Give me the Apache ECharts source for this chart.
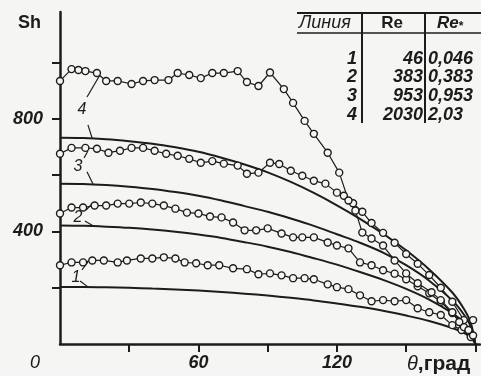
<!DOCTYPE html>
<html>
<head>
<meta charset="utf-8">
<script src="https://cdn.jsdelivr.net/npm/echarts@6/dist/echarts.min.js"></script>
<style>
html, body { margin: 0; padding: 0; background: #f5f5f3; }
#chart { width: 481px; height: 376px; }
</style>
</head>
<body>
<div id="chart"></div>
<script>
// experimental points [theta, Sh]
const exp1 = [[0,280],[5,290],[10,290],[14,297],[19,297],[25,290],[29,297],[35,304],[40,304],[45,308],[50,304],[54,290],[59,287],[64,280],[69,280],[75,269],[81,266],[86,248],[91,251],[96,244],[101,234],[106,234],[110,230],[116,212],[120,202],[125,195],[130,173],[135,152],[140,156],[145,152],[150,156],[155,127],[160,113],[165,103],[170,67],[174,50],[178,32]];
const exp2 = [[0,464],[5,485],[10,485],[15,492],[20,492],[25,499],[30,499],[35,503],[40,499],[45,492],[50,481],[55,467],[60,464],[65,453],[70,450],[75,432],[80,404],[85,404],[90,411],[96,393],[101,379],[105,379],[110,379],[116,361],[120,350],[125,340],[130,290],[135,280],[140,262],[145,250],[150,230],[155,205],[160,180],[165,150],[170,110],[175,60],[178,25]];
const exp3 = [[0,676],[5,697],[11,697],[16,694],[21,680],[26,687],[31,697],[36,697],[41,687],[46,676],[51,669],[56,658],[61,644],[66,650],[71,641],[77,634],[81,605],[86,609],[91,644],[95,640],[100,616],[105,598],[110,580],[115,570],[120,538],[123,527],[127,500],[131,470],[135,430],[140,395],[145,360],[150,320],[155,285],[160,245],[165,200],[170,150],[175,85],[179,85]];
const exp4 = [[0,935],[5,977],[8,974],[11,970],[16,963],[20,935],[25,935],[31,924],[36,935],[41,938],[47,938],[51,963],[56,956],[61,945],[66,963],[71,963],[77,970],[81,931],[86,917],[91,965],[97,906],[101,857],[106,793],[110,747],[116,680],[121,609],[125,510],[128,474],[131,396],[135,375],[140,350],[145,297],[150,251],[155,216],[161,184],[165,156],[170,113],[173,78],[177,50],[179,30]];

// theoretical curves
const theta = [0,10,20,30,40,50,60,70,80,90,100,110,120,130,140,150,160,170,175,178,180];
const theory1 = [203,203,202,200,197,194,190,185,179,172,164,155,144,132,118,101,82,57,40,24,0];
const theory2 = [421,420,417,413,407,399,389,377,362,346,327,305,282,256,228,196,158,110,76,45,0];
const theory3 = [570,569,565,559,551,540,527,510,490,470,446,420,390,360,325,280,225,155,105,62,0];
const theory4 = [733,732,728,721,712,699,683,662,638,610,576,537,493,445,392,333,265,183,125,75,0];

const xTicks = [30,60,90,120,150,180];
const xLabels = [60,120];
const yTicks = [200,400,600,800,1000];
const yLabels = [400,800];

const tableHead = ['Линия', 'Re', 'Re'];
const tableRows = [['1','46','0,046'],['2','383','0,383'],['3','953','0,953'],['4','2030','2,03']];

// curve labels with leader strokes, in data coords
const curveTags = [
    { text: '4', at: [9.5, 832], up: [[11.7, 878], [17.3, 956]], down: [[12.1, 779], [13.9, 732]] },
    { text: '3', at: [7.8, 629], up: [[10.4, 661], [12.1, 686]], down: [[11.7, 612], [14.3, 569]] },
    { text: '2', at: [7.8, 448], up: [[11.3, 476], [13.9, 498]], down: [[10.8, 437], [14.3, 420]] },
    { text: '1', at: [6.9, 235], up: [[9.5, 263], [12.1, 292]], down: [[8.7, 224], [12.1, 203]] }
];

const ink = '#1c1c1c';
const font = 'Liberation Sans';
const numFont = 'italic bold 18px "' + font + '"';

const chart = echarts.init(document.getElementById('chart'));

const expSeries = [exp1, exp2, exp3, exp4].map(d => ({
    type: 'line',
    data: d,
    symbol: 'circle',
    symbolSize: 7,
    showAllSymbol: true,
    lineStyle: { color: ink, width: 1.2 },
    itemStyle: { color: '#f5f5f3', borderColor: ink, borderWidth: 1.4 },
    z: 3,
    animation: false
}));

const theorySeries = [theory1, theory2, theory3, theory4].map(v => ({
    type: 'line',
    data: theta.map((t, i) => [t, v[i]]),
    smooth: 0.3,
    symbol: 'none',
    lineStyle: { color: ink, width: 2 },
    z: 2,
    animation: false
}));

chart.setOption({
    backgroundColor: '#f5f5f3',
    animation: false,
    grid: { left: 60, right: 1, top: 12, bottom: 32 },
    xAxis: {
        type: 'value', min: 0, max: 182,
        axisLine: { lineStyle: { color: ink, width: 2.5 } },
        axisTick: { customValues: xTicks, length: 8, lineStyle: { color: ink, width: 2 } },
        axisLabel: { customValues: xLabels, color: ink, fontSize: 18, fontStyle: 'italic', fontWeight: 'bold', fontFamily: font, margin: 10 },
        splitLine: { show: false }
    },
    yAxis: {
        type: 'value', min: 0, max: 1180,
        axisLine: { show: true, lineStyle: { color: ink, width: 2.5 } },
        axisTick: { show: true, customValues: yTicks, length: 8, lineStyle: { color: ink, width: 2 } },
        axisLabel: { customValues: yLabels, color: ink, fontSize: 18, fontStyle: 'italic', fontWeight: 'bold', fontFamily: font, margin: 17 },
        splitLine: { show: false }
    },
    series: [...theorySeries, ...expSeries]
});

// annotations: axis names, origin label, table
const txt = (x, y, s, extra) => ({
    type: 'text', x: x, y: y,
    style: Object.assign({ text: s, fill: ink, font: numFont, verticalAlign: 'middle' }, extra || {})
});
const seg = (x1, y1, x2, y2, w) => ({ type: 'line', shape: { x1, y1, x2, y2 }, style: { stroke: ink, lineWidth: w } });

const g = [];
g.push(txt(18, 23, 'Sh', { font: 'bold 18px "' + font + '"' }));
g.push(txt(30, 363, '0', { font: 'italic 18px "' + font + '"' }));
g.push({
    type: 'text', x: 407, y: 364,
    style: {
        text: '{a|θ}{b|,град}', verticalAlign: 'middle',
        rich: {
            a: { font: 'italic 20px "' + font + '"', fill: ink },
            b: { font: 'bold 21px "' + font + '"', fill: ink }
        }
    }
});

// table
g.push(seg(297, 13, 481, 13, 2));
g.push(seg(297, 33, 481, 33, 1.5));
g.push(seg(362, 13, 362, 123, 2));
g.push(seg(425, 13, 425, 123, 2));
g.push(txt(299, 23, tableHead[0], { font: 'italic 18px "' + font + '"' }));
g.push(txt(392, 23, tableHead[1], { align: 'center', font: 'bold 17px "' + font + '"' }));
g.push({
    type: 'text', x: 437, y: 23,
    style: {
        text: '{a|' + tableHead[2] + '}{b|*}', verticalAlign: 'middle',
        rich: { a: { font: 'italic bold 17px "' + font + '"', fill: ink }, b: { font: 'bold 12px "' + font + '"', fill: ink, padding: [7, 0, 0, 0] } }
    }
});
const rowY = [59, 77, 96, 115];
tableRows.forEach((r, i) => {
    g.push(txt(357, rowY[i], r[0], { align: 'right' }));
    g.push(txt(423, rowY[i], r[1], { align: 'right' }));
    g.push(txt(428, rowY[i], r[2]));
});

// curve numbers with leaders
curveTags.forEach(t => {
    const p = chart.convertToPixel('grid', t.at);
    g.push(txt(p[0], p[1], t.text, { align: 'center', font: 'italic 16px "' + font + '"' }));
    [t.up, t.down].forEach(l => {
        const a = chart.convertToPixel('grid', l[0]);
        const b = chart.convertToPixel('grid', l[1]);
        g.push(seg(a[0], a[1], b[0], b[1], 1.2));
    });
});

chart.setOption({ graphic: g });
</script>
</body>
</html>
